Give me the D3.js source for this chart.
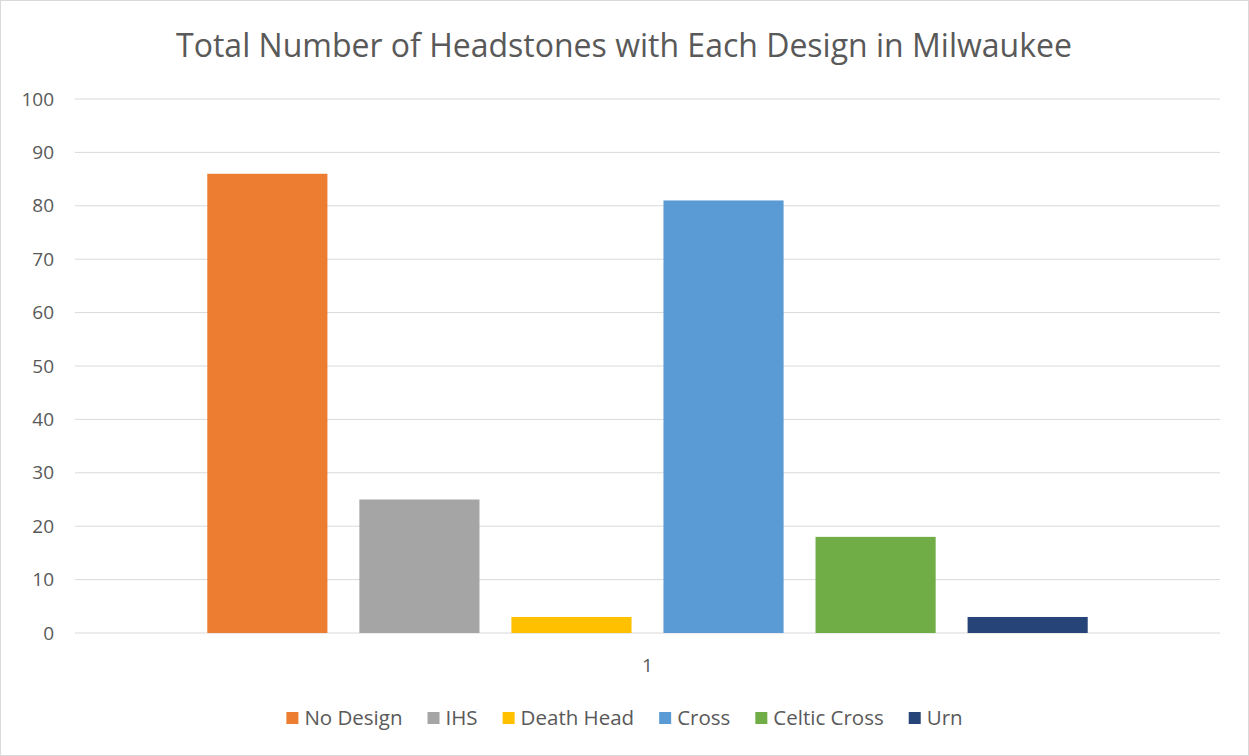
<!DOCTYPE html>
<html>
<head>
	<title>Headstones</title>
	<script src="https://d3js.org/d3.v7.min.js" charset="utf-8"></script>
	<style>
		body { margin: 0; background: #fff; }
		text { font-family: "Open Sans", "Noto Sans", sans-serif; fill: #595959; }
	</style>
</head>
<body>
	<svg width="1249" height="756"></svg>
	<script>
		const designs = ["No Design", "IHS", "Death Head", "Cross", "Celtic Cross", "Urn"];
		const counts = [86, 25, 3, 81, 18, 3];
		const colors = ["#ed7d31", "#a5a5a5", "#ffc000", "#5b9bd5", "#70ad47", "#264478"];
		const yTicks = [0, 10, 20, 30, 40, 50, 60, 70, 80, 90, 100];
		const category = "1";

		const svg = d3.select('svg');

		// chart border
		svg.append('rect')
			.attr('x', 0.5).attr('y', 0.5)
			.attr('width', 1248).attr('height', 755)
			.attr('fill', '#fff')
			.attr('stroke', '#d9d9d9');

		svg.append('text')
			.attr('x', 624).attr('y', 57)
			.attr('text-anchor', 'middle')
			.style('font-size', '32px')
			.text('Total Number of Headstones with Each Design in Milwaukee');

		const plotLeft = 75, plotRight = 1220, plotTop = 99, plotBottom = 633;

		const y = d3.scaleLinear().domain([0, 100]).range([plotBottom, plotTop]);
		const x = d3.scaleBand().domain(designs).range([plotLeft, plotRight])
			.paddingInner(0.21).paddingOuter(0.87);

		// gridlines
		svg.append('g')
			.selectAll('line')
			.data(yTicks)
			.join('line')
			.attr('x1', plotLeft).attr('x2', plotRight)
			.attr('y1', d => y(d)).attr('y2', d => y(d))
			.attr('stroke', '#d9d9d9')
			.attr('stroke-width', 1);

		// y labels
		svg.append('g')
			.selectAll('text')
			.data(yTicks)
			.join('text')
			.attr('x', 54)
			.attr('y', d => y(d))
			.attr('dy', '0.35em')
			.attr('text-anchor', 'end')
			.style('font-size', '19px')
			.text(d => d);

		// bars
		svg.append('g')
			.selectAll('rect')
			.data(designs)
			.join('rect')
			.attr('x', d => x(d))
			.attr('y', (d, i) => y(counts[i]))
			.attr('width', x.bandwidth())
			.attr('height', (d, i) => y(0) - y(counts[i]))
			.attr('fill', (d, i) => colors[i]);

		// category label
		svg.append('text')
			.attr('x', (plotLeft + plotRight) / 2).attr('y', 665)
			.attr('dy', '0.35em')
			.attr('text-anchor', 'middle')
			.style('font-size', '19px')
			.text(category);

		// legend
		const legend = svg.append('g');
		let lx = 0;
		designs.forEach((d, i) => {
			const g = legend.append('g');
			g.append('rect')
				.attr('x', 0).attr('y', -6)
				.attr('width', 12).attr('height', 12)
				.attr('fill', colors[i]);
			const t = g.append('text')
				.attr('x', 18).attr('dy', '0.35em')
				.style('font-size', '20.5px')
				.text(d);
			const w = 18 + t.node().getComputedTextLength();
			g.attr('transform', `translate(${lx},718)`);
			lx += w + 25;
		});
		const total = lx - 25;
		legend.attr('transform', `translate(${(1249 - total) / 2},0)`);
	</script>
</body>
</html>
